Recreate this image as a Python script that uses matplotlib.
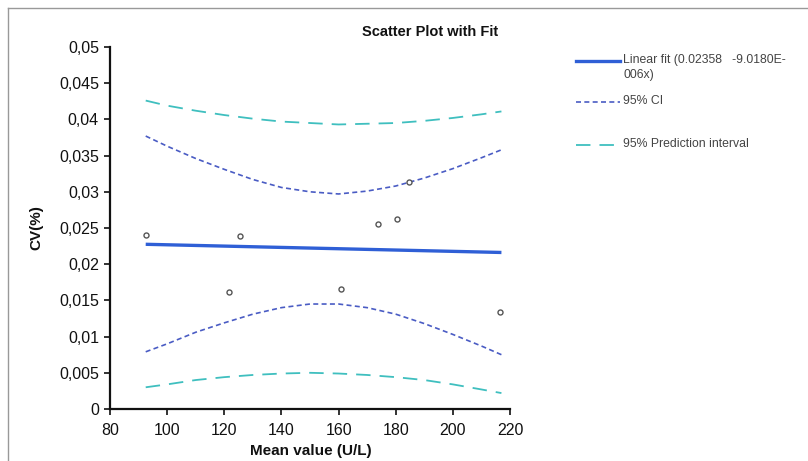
import matplotlib
matplotlib.use("Agg")
import matplotlib.pyplot as plt
from matplotlib.lines import Line2D
from matplotlib.ticker import FuncFormatter, MultipleLocator

plt.rcParams['font.family'] = ['Liberation Sans', 'DejaVu Sans']

# Data points
mean_x = [92.5, 121.6, 125.6, 160.9, 173.7, 180.6, 184.7, 216.6]
cv_y = [0.0241, 0.0162, 0.0239, 0.0166, 0.0256, 0.0262, 0.0314, 0.0134]

# Linear fit line end points
fit_x = [92.5, 217.0]
fit_y = [0.02275, 0.02162]

# Curves sampled along x
curve_x = [92.5, 100, 110, 120, 130, 140, 150, 160, 170, 180, 190, 200, 210, 217]
ci_upper = [0.0377, 0.0363, 0.0346, 0.0331, 0.0317, 0.0306, 0.0300, 0.0297,
            0.0301, 0.0308, 0.0319, 0.0332, 0.0347, 0.0358]
ci_lower = [0.0079, 0.0090, 0.0106, 0.0119, 0.0131, 0.0140, 0.0145, 0.0145,
            0.0140, 0.0131, 0.0118, 0.0103, 0.0087, 0.0075]
pi_upper = [0.0426, 0.0419, 0.0412, 0.0406, 0.0401, 0.0397, 0.0395, 0.0393,
            0.0394, 0.0395, 0.0398, 0.0402, 0.0407, 0.0411]
pi_lower = [0.0030, 0.0034, 0.0040, 0.0044, 0.0047, 0.0049, 0.0050, 0.0049,
            0.0047, 0.0044, 0.0040, 0.0034, 0.0027, 0.0022]

title = "Scatter Plot with Fit"
xlabel = "Mean value (U/L)"
ylabel = "CV(%)"
legend_labels = ["Linear fit (0.02358   -9.0180E-\n006x)", "95% CI", "95% Prediction interval"]

W, H = 808, 461
fig = plt.figure(figsize=(W / 100, H / 100), dpi=100)
fig.patch.set_facecolor('white')

ax = fig.add_axes([110 / W, (H - 409) / H, 400 / W, 362 / H])

fit_color = '#2f5fd6'
ci_color = '#4a5cc4'
pi_color = '#3fbfbf'

ax.plot(curve_x, pi_upper, color=pi_color, lw=1.3, dashes=(8, 5))
ax.plot(curve_x, pi_lower, color=pi_color, lw=1.3, dashes=(8, 5))
ax.plot(curve_x, ci_upper, color=ci_color, lw=1.2, dashes=(3, 2))
ax.plot(curve_x, ci_lower, color=ci_color, lw=1.2, dashes=(3, 2))
ax.plot(fit_x, fit_y, color=fit_color, lw=2.4, solid_capstyle='butt')
ax.scatter(mean_x, cv_y, s=13, facecolors='white', edgecolors='#555555', linewidths=1.0, zorder=5)

ax.set_xlim(80, 220)
ax.set_ylim(0, 0.05)
ax.xaxis.set_major_locator(MultipleLocator(20))
ax.yaxis.set_major_locator(MultipleLocator(0.005))
fmt = FuncFormatter(lambda v, p: ('%g' % round(v, 4)).replace('.', ','))
ax.xaxis.set_major_formatter(fmt)
ax.yaxis.set_major_formatter(fmt)

for s in ['top', 'right']:
    ax.spines[s].set_visible(False)
for s in ['left', 'bottom']:
    ax.spines[s].set_linewidth(1.6)
    ax.spines[s].set_color('#111111')
ax.tick_params(axis='both', direction='out', length=4, width=1.2, labelsize=11.5, colors='#111111', pad=4)
ax.tick_params(axis='x', pad=6)

fig.text(430 / W, 1 - 32 / H, title, ha='center', va='center', fontsize=10.5, fontweight='bold', color='#111111')
fig.text(311 / W, 1 - 451 / H, xlabel, ha='center', va='center', fontsize=11, fontweight='bold', color='#111111')
fig.text(36 / W, 1 - 228 / H, ylabel, ha='center', va='center', rotation=90, fontsize=11, fontweight='bold', color='#111111')

# Legend
leg_styles = [
    dict(color=fit_color, lw=2.4),
    dict(color=ci_color, lw=1.2, dashes=(3, 2)),
    dict(color=pi_color, lw=1.3, dashes=(8, 5)),
]
leg_y = [61, 102, 145]
for lab, st, yy in zip(legend_labels, leg_styles, leg_y):
    fig.add_artist(Line2D([576 / W, 620 / W], [1 - yy / H, 1 - yy / H], transform=fig.transFigure, **st))
    fig.text(623 / W, 1 - (yy - 7) / H, lab, ha='left', va='top', fontsize=8.8, color='#444444', linespacing=1.3)

# Frame border
fig.add_artist(Line2D([8 / W, 1.0], [1 - 8 / H, 1 - 8 / H], transform=fig.transFigure, color='#999999', lw=1.0))
fig.add_artist(Line2D([8 / W, 8 / W], [0, 1 - 8 / H], transform=fig.transFigure, color='#999999', lw=1.0))

fig.savefig('out.png', dpi=100, facecolor='white')
